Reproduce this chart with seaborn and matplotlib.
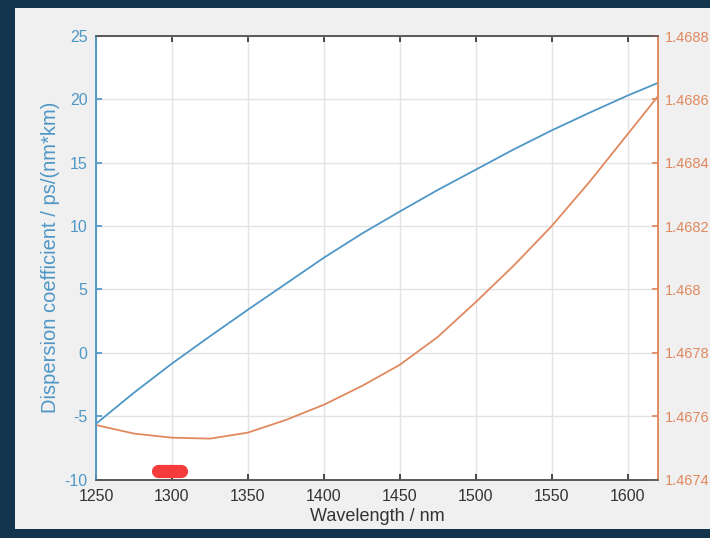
import matplotlib
matplotlib.use("Agg")
import matplotlib.pyplot as plt
import seaborn as sns
import pandas as pd
from matplotlib.patches import Rectangle
from matplotlib.ticker import FuncFormatter, MultipleLocator

# values
wavelength = [1250, 1275, 1300, 1325, 1350, 1375, 1400, 1425, 1450, 1475,
              1500, 1525, 1550, 1575, 1600, 1620]
dispersion = [-5.6, -3.15, -0.85, 1.3, 3.4, 5.45, 7.5, 9.4, 11.15, 12.85,
              14.45, 16.05, 17.55, 18.95, 20.3, 21.3]
ref_index = [1.467572, 1.467545, 1.467532, 1.467529, 1.467548, 1.467588,
             1.467636, 1.467695, 1.467762, 1.46785, 1.46796, 1.468075,
             1.4682, 1.46834, 1.46849, 1.46861]
x_ticks = [1250, 1300, 1350, 1400, 1450, 1500, 1550, 1600]
# red highlight blob near 1300 nm on the axis
blob_x = [1291, 1306]
blob_y = [-9.35, -9.35]

df = pd.DataFrame({"wl": wavelength, "D": dispersion, "n": ref_index})

BLUE = "#4f97c6"
ORANGE = "#e0895f"
NAVY = "#12344d"
PANEL = "#f0f0f0"

sns.set_theme(style="white")
plt.rcParams["font.family"] = ["Liberation Sans", "DejaVu Sans"]
plt.rcParams["axes.unicode_minus"] = False

fig = plt.figure(figsize=(7.1, 5.38), dpi=100)
fig.patch.set_facecolor(NAVY)
fig.patches.append(Rectangle((15 / 710, 9 / 538), 1 - 15 / 710, 521 / 538,
                             transform=fig.transFigure, facecolor=PANEL,
                             edgecolor="none", zorder=-10))

ax = fig.add_axes([96 / 710, 58.5 / 538, 562 / 710, 443.5 / 538])
ax.set_facecolor("white")
ax2 = ax.twinx()

sns.lineplot(data=df, x="wl", y="D", ax=ax, color=BLUE, linewidth=1.3)
sns.lineplot(data=df, x="wl", y="n", ax=ax2, color=ORANGE, linewidth=1.3)

ax.set_xlim(1250, 1620)
ax.set_ylim(-10, 25)
ax2.set_ylim(1.4674, 1.4688)
ax.set_xticks(x_ticks)
ax.yaxis.set_major_locator(MultipleLocator(5))
ax2.yaxis.set_major_locator(MultipleLocator(0.0002))
ax2.yaxis.set_major_formatter(FuncFormatter(lambda v, p: f"{v:.4f}".rstrip("0")))

ax.grid(True, color="#e3e3e3", linewidth=1)
ax.set_axisbelow(True)

ax.set_xlabel("Wavelength / nm", fontsize=13, color="#333333", labelpad=3)
ax.set_ylabel("Dispersion coefficient / ps/(nm*km)", fontsize=14.5,
              color=BLUE, labelpad=3)
ax2.set_ylabel("")

ax.tick_params(axis="x", direction="in", top=True, bottom=True, length=4,
               labelsize=11.5, colors="#333333", pad=7)
ax.tick_params(axis="y", direction="in", left=True, length=4,
               labelsize=11.5, colors=BLUE, pad=6)
ax2.tick_params(axis="y", direction="in", right=True, length=4,
                labelsize=10.5, colors=ORANGE, pad=5)

for a in (ax, ax2):
    a.spines["top"].set_color("#555555")
    a.spines["bottom"].set_color("#555555")
    a.spines["left"].set_color(BLUE)
    a.spines["right"].set_color(ORANGE)
    for s in a.spines.values():
        s.set_linewidth(1.1)
ax2.set_zorder(ax.get_zorder() + 1)
ax2.patch.set_visible(False)

ax.plot(blob_x, blob_y, color="#f53b3b", linewidth=9.5,
        solid_capstyle="round", zorder=10, clip_on=False)

fig.savefig("out.png", dpi=100, facecolor=fig.get_facecolor())
